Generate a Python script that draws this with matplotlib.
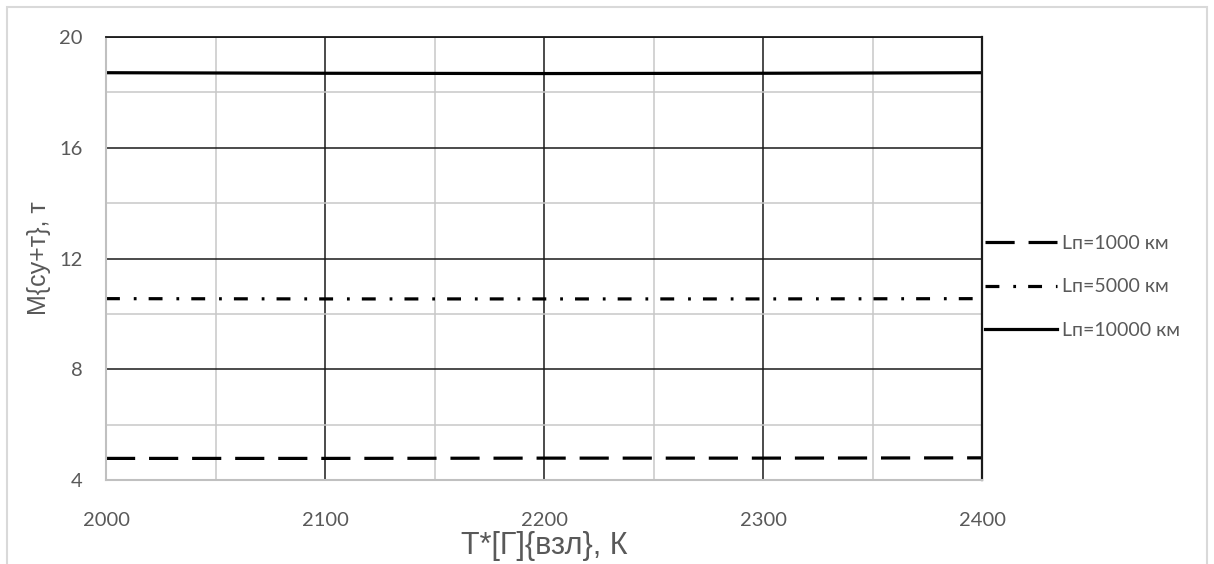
import matplotlib
matplotlib.use("Agg")
import matplotlib.pyplot as plt
from matplotlib.patches import Rectangle
from matplotlib.ticker import MultipleLocator

# данные
t_vzl = [2000, 2100, 2200, 2300, 2400]
m_1000 = [4.78, 4.78, 4.79, 4.79, 4.80]
m_5000 = [10.55, 10.54, 10.54, 10.54, 10.55]
m_10000 = [18.71, 18.69, 18.68, 18.69, 18.71]
labels = ["Lп=1000 км", "Lп=5000 км", "Lп=10000 км"]

plt.rcParams['lines.scale_dashes'] = False
tick_font = ['Lato', 'DejaVu Sans']
label_font = ['Liberation Sans', 'DejaVu Sans']
gray_txt = '#595959'

fig = plt.figure(figsize=(12.14, 5.64), dpi=100)
ax = fig.add_axes([106 / 1214, 1 - 480 / 564, 876 / 1214, 443 / 564])

# рамка всей картинки
fig.patches.append(Rectangle((7 / 1214, -0.05), 1200 / 1214, 1 - 7 / 564 + 0.05,
                             transform=fig.transFigure, fill=False,
                             edgecolor='#d9d9d9', linewidth=1.5))

ax.plot(t_vzl, m_1000, color='black', linewidth=2.3, linestyle=(0, (21, 10)),
        label=labels[0])
ax.plot(t_vzl, m_5000, color='black', linewidth=2.3,
        linestyle=(0, (10, 10, 2, 8.7)), label=labels[1])
ax.plot(t_vzl, m_10000, color='black', linewidth=2.3, linestyle='-',
        label=labels[2])

ax.set_xlim(2000, 2400)
ax.set_ylim(4, 20)
ax.xaxis.set_major_locator(MultipleLocator(100))
ax.xaxis.set_minor_locator(MultipleLocator(50))
ax.yaxis.set_major_locator(MultipleLocator(4))
ax.yaxis.set_minor_locator(MultipleLocator(2))

ax.grid(which='minor', color='#c8c8c8', linewidth=1.1)
ax.grid(which='major', color='#1a1a1a', linewidth=1.1)
ax.set_axisbelow(True)

for side in ['left', 'bottom']:
    ax.spines[side].set_color('#c0c0c0')
    ax.spines[side].set_linewidth(1.5)
ax.spines['top'].set_color('#1a1a1a')
ax.spines['right'].set_color('#1a1a1a')
ax.spines['top'].set_linewidth(1.3)
ax.spines['right'].set_linewidth(1.6)

ax.tick_params(which='both', length=0)
ax.tick_params(axis='x', pad=23)
ax.tick_params(axis='y', pad=17)
for lab in ax.get_xticklabels() + ax.get_yticklabels():
    lab.set_fontfamily(tick_font)
    lab.set_fontsize(14.5)
    lab.set_color(gray_txt)

ax.set_xlabel("T*[Г]{взл}, К", fontsize=22, color=gray_txt, family=label_font,
              va='center')
ax.xaxis.set_label_coords(0.5, -0.148)
ax.set_ylabel("M{су+т}, т", fontsize=18, color=gray_txt, family=label_font,
              va='center')
ax.yaxis.set_label_coords(-0.076, 0.5)

leg = ax.legend(loc='center left', bbox_to_anchor=(1.003, 0.436), frameon=False,
                borderpad=0, borderaxespad=0, handlelength=3.7,
                handletextpad=0.3, labelspacing=1.36,
                prop={'family': tick_font, 'size': 14})
for txt in leg.get_texts():
    txt.set_color(gray_txt)

fig.savefig("out.png", dpi=100)
